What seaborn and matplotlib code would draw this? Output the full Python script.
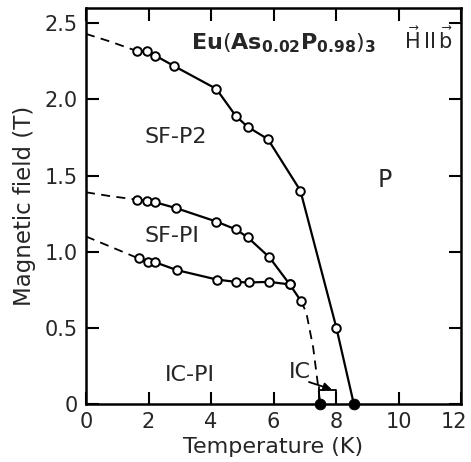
import matplotlib
matplotlib.use("Agg")
import matplotlib.pyplot as plt
import matplotlib.transforms as mtransforms
import seaborn as sns
import pandas as pd

# Phase boundaries of Eu(As0.02P0.98)3, H || b
# measured points (open circles)
upper_T = [1.62, 1.95, 2.22, 2.80, 4.17, 4.79, 5.17, 5.82, 6.86, 8.01]
upper_B = [2.318, 2.318, 2.287, 2.221, 2.069, 1.892, 1.820, 1.739, 1.401, 0.502]
middle_T = [1.62, 1.95, 2.22, 2.87, 4.17, 4.79, 5.17, 5.87, 6.52]
middle_B = [1.342, 1.335, 1.324, 1.287, 1.198, 1.147, 1.095, 0.963, 0.785]
lower_T = [1.68, 1.97, 2.22, 2.91, 4.19, 4.79, 5.22, 5.87, 6.52, 6.88]
lower_B = [0.956, 0.934, 0.930, 0.879, 0.817, 0.802, 0.798, 0.802, 0.785, 0.676]

# zero-field transitions (filled circles)
zero_T = [7.5, 8.57]
zero_B = [0.0, 0.0]

# extrapolations toward T = 0 (dashed)
upper_ext_T = [0.0, 0.77, 1.62]
upper_ext_B = [2.43, 2.38, 2.318]
middle_ext_T = [0.0, 0.77, 1.62]
middle_ext_B = [1.39, 1.365, 1.342]
lower_ext_T = [0.0, 1.68]
lower_ext_B = [1.10, 0.956]
# dashed drop of the lower boundary to the zero-field point
drop_T = [6.88, 7.05, 7.27, 7.5]
drop_B = [0.676, 0.60, 0.37, 0.0]

x_ticks = [0, 2, 4, 6, 8, 10, 12]
y_ticks = [0, 0.5, 1.0, 1.5, 2.0, 2.5]
y_tick_labels = ["0", "0.5", "1.0", "1.5", "2.0", "2.5"]

sns.set_style("ticks")
plt.rcParams["font.family"] = ["DejaVu Sans"]

fig = plt.figure(figsize=(4.71, 4.62), dpi=100)
ax = fig.add_axes([0.1826, 0.1255, 0.7962, 0.8572])

lw = 1.6
# solid boundaries
sns.lineplot(x=upper_T + [zero_T[1]], y=upper_B + [0.0], ax=ax, color="black",
             lw=lw, sort=False, estimator=None)
sns.lineplot(x=middle_T, y=middle_B, ax=ax, color="black", lw=lw, sort=False, estimator=None)
sns.lineplot(x=lower_T, y=lower_B, ax=ax, color="black", lw=lw, sort=False, estimator=None)

# dashed extrapolations
for tx, by in [(upper_ext_T, upper_ext_B), (middle_ext_T, middle_ext_B),
               (lower_ext_T, lower_ext_B), (drop_T, drop_B)]:
    sns.lineplot(x=tx, y=by, ax=ax, color="black", lw=1.3, sort=False,
                 estimator=None, linestyle=(0, (5, 3.5)))

# open circles
pts = pd.DataFrame({"T": upper_T + middle_T + lower_T,
                    "B": upper_B + middle_B + lower_B})
sns.scatterplot(data=pts, x="T", y="B", ax=ax, s=38, facecolor="white",
                edgecolor="black", linewidth=1.4, zorder=5)
# filled circles at zero field
sns.scatterplot(x=zero_T, y=zero_B, ax=ax, s=60, color="black",
                edgecolor="black", zorder=6, clip_on=False)

# IC bracket and arrow
ax.plot([7.47, 7.47], [0, 0.11], color="black", lw=1.3)
ax.plot([7.47, 8.0, 8.0], [0.09, 0.09, 0.0], color="black", lw=1.3)
ax.annotate("", xy=(7.95, 0.09), xytext=(7.05, 0.15),
            arrowprops=dict(arrowstyle="-|>", color="black", lw=1.3,
                            mutation_scale=12))

fs = 15
ax.text(6.85, 0.21, "IC", fontsize=16, ha="center", va="center")
ax.text(3.33, 0.19, "IC-PI", fontsize=16, ha="center", va="center")
ax.text(2.75, 1.10, "SF-PI", fontsize=16, ha="center", va="center")
ax.text(2.88, 1.75, "SF-P2", fontsize=16, ha="center", va="center")
ax.text(9.55, 1.47, "P", fontsize=17, ha="center", va="center")
ax.text(3.35, 2.37,
        r"$\mathbf{Eu}\left(\mathbf{As}_{\mathbf{0.02}}\mathbf{P}_{\mathbf{0.98}}\right)_{\mathbf{3}}$",
        fontsize=16, ha="left", va="center")
ax.text(11.75, 2.39, r"$\vec{\mathrm{H}}\,\mathrm{II}\,\vec{\mathrm{b}}$",
        fontsize=15, ha="right", va="center")

ax.set_xlim(0, 12)
ax.set_ylim(0, 2.6)
ax.set_xticks(x_ticks)
ax.set_xticklabels([str(t) for t in x_ticks])
ax.set_yticks(y_ticks)
ax.set_yticklabels(y_tick_labels)
ax.tick_params(direction="in", length=9, width=1.5, labelsize=fs,
               top=True, right=True, pad=6, color="black")
for side in ["left", "right", "top", "bottom"]:
    ax.spines[side].set_visible(True)
    ax.spines[side].set_linewidth(1.8)
    ax.spines[side].set_color("black")
ax.set_xlabel("Temperature (K)", fontsize=16, labelpad=3)
ax.set_ylabel("Magnetic field (T)", fontsize=16.5, labelpad=6)

# keep the last x tick label inside the figure
last = ax.get_xticklabels()[-1]
last.set_transform(last.get_transform() +
                   mtransforms.ScaledTranslation(-5 / 72, 0, fig.dpi_scale_trans))

fig.savefig("out.png", dpi=100, facecolor="white")
